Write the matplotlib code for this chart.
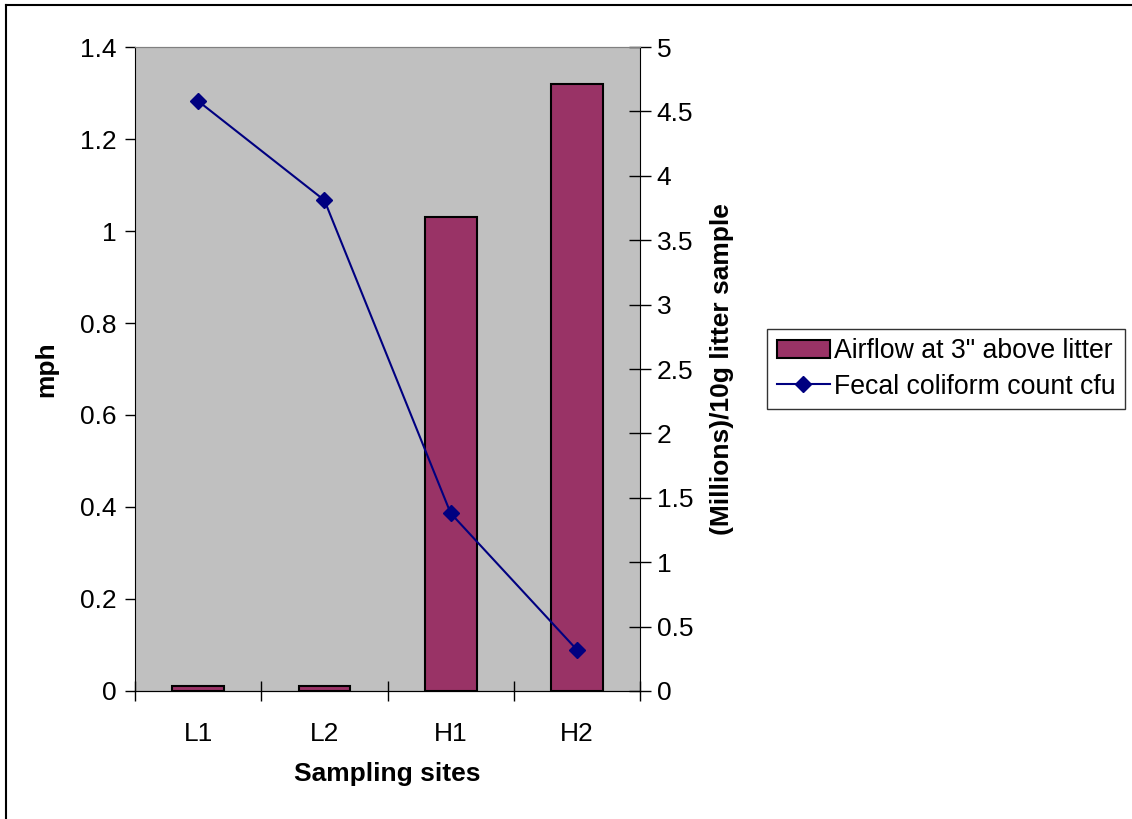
import matplotlib
matplotlib.use("Agg")
import matplotlib.pyplot as plt
from matplotlib.lines import Line2D
import numpy as np

plt.rcParams['font.family'] = ['Liberation Sans', 'DejaVu Sans']

sites = ["L1", "L2", "H1", "H2"]
airflow = [0.01, 0.01, 1.03, 1.32]
fecal = [4.58, 3.81, 1.38, 0.32]

fig = plt.figure(figsize=(11.32, 8.19), dpi=100)
# outer border: only top and left edges are visible in the original
fig.add_artist(Line2D([0.0053, 1.0], [0.9939, 0.9939], transform=fig.transFigure, color="black", linewidth=1.5))
fig.add_artist(Line2D([0.0053, 0.0053], [0.0, 0.9939], transform=fig.transFigure, color="black", linewidth=1.5))

ax = fig.add_axes([0.1193, 0.1563, 0.4461, 0.7863])
ax.set_facecolor("#C0C0C0")
x = np.arange(len(sites))
b = ax.bar(x, airflow, width=0.41, color="#993366", edgecolor="black", linewidth=1.5,
           label='Airflow at 3" above litter', zorder=2)
ax.set_xlim(-0.5, 3.5)
ax.set_ylim(0, 1.4)
ax.set_yticks(np.arange(0, 1.41, 0.2))
ax.set_yticklabels(["0", "0.2", "0.4", "0.6", "0.8", "1", "1.2", "1.4"])
ax.set_xticks(x)
ax.set_xticklabels(sites)
ax.set_xticks(np.arange(-0.5, 3.6, 1), minor=True)
ax.tick_params(axis="x", which="major", length=0, pad=22, labelsize=19)
ax.tick_params(axis="x", which="minor", length=14, direction="inout", width=1)
ax.tick_params(axis="y", labelsize=19, length=7, direction="out", width=1, pad=6)
ax.set_xlabel("Sampling sites", fontsize=19, fontweight="bold", labelpad=12)
ax.set_ylabel("mph", fontsize=19, fontweight="bold", labelpad=16)
ax.spines["top"].set_color("#808080")
ax.spines["right"].set_visible(False)

ax2 = ax.twinx()
ln, = ax2.plot(x, fecal, color="#000080", marker="D", markersize=8, linewidth=1.5,
               label="Fecal coliform count cfu", zorder=3)
ax2.set_ylim(0, 5)
ax2.set_yticks(np.arange(0, 5.01, 0.5))
ax2.set_yticklabels(["0", "0.5", "1", "1.5", "2", "2.5", "3", "3.5", "4", "4.5", "5"])
ax2.tick_params(axis="y", labelsize=19, length=16, direction="inout", width=1, pad=4)
ax2.set_ylabel("(Millions)/10g litter sample", fontsize=19, fontweight="bold", labelpad=12)
ax2.spines["top"].set_color("#808080")
ax2.spines["left"].set_visible(False)

fig.legend([b, ln], ['Airflow at 3" above litter', "Fecal coliform count cfu"],
           loc="center left", bbox_to_anchor=(0.678, 0.5495), fontsize=19.2,
           frameon=True, fancybox=False, edgecolor="black", handlelength=2.0,
           handletextpad=0.15, borderpad=0.35, labelspacing=0.35, borderaxespad=0)

fig.savefig("out.png", dpi=100)
